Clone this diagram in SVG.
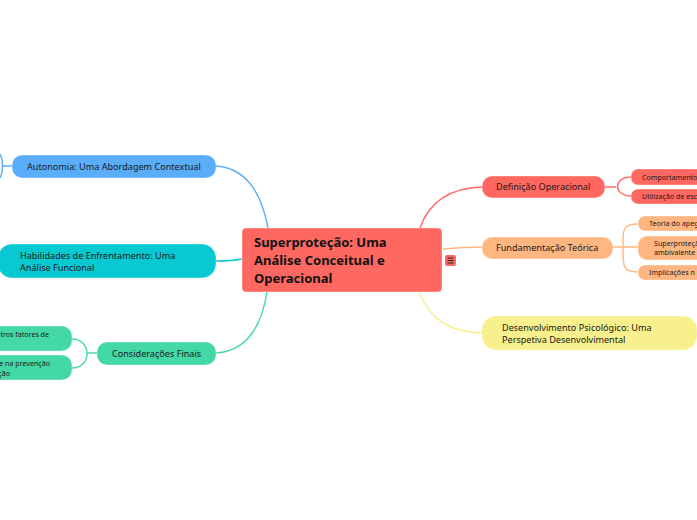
<svg xmlns="http://www.w3.org/2000/svg" width="697" height="520" viewBox="0 0 697 520">
<style>
text{font-family:"Noto Sans","Open Sans",sans-serif;fill:#1a1a1a}
.m{font-size:9.1px}
.s{font-size:7.1px}
.r{font-size:13px;font-weight:700;fill:#111}
.c{fill:none;stroke-width:1.4}
.n{stroke:#fff;stroke-opacity:.35;stroke-width:1}
</style>
<rect width="697" height="520" fill="#fff"/>
<g id="connectors">
<path class="c" stroke="#5aadf8" d="M216 166C245 168 261 190 268 228"/>
<path class="c" stroke="#5aadf8" d="M12 166H2.500M0 154C3.300 160 3.300 172 0 178"/>
<path class="c" stroke="#08c9d2" d="M216 261C225 261 232 261 242 259"/>
<path class="c" stroke="#44d8a6" d="M216 353C245 351 261 330 267 292"/>
<path class="c" stroke="#44d8a6" d="M97 353H87M72 339C92 339 92 368 72 368"/>
<path class="c" stroke="#ff6860" d="M482 187C450 188 429 202 420 228"/>
<path class="c" stroke="#ff6860" d="M605 187H616M631 177C613 177 613 196 631 196"/>
<path class="c" stroke="#ffb680" d="M482 247C465 247 455 248 443 249"/>
<path class="c" stroke="#ffb680" d="M613 247H638M638 224C622 224 623 230 623 247C623 265 622 272 638 272"/>
<path class="c" stroke="#f8f08c" d="M482 333C450 332 430 320 419 292"/>
</g>
<g id="root"><rect class="n" x="242" y="228" width="200" height="64" rx="4" fill="#ff6860"/>
<text class="r" x="254" y="247">Superproteção: Uma</text>
<text class="r" x="254" y="265">Análise Conceitual e</text>
<text class="r" x="254" y="283">Operacional</text></g>
<g id="menu"><rect x="445" y="255" width="11" height="11" rx="2" fill="#ff6860"/><path d="M447.500 258H453.500M447.500 260.500H453.500M447.500 263H453.500" stroke="#222" stroke-width="1"/></g>
<g id="n-autonomia"><rect class="n" x="12" y="155" width="204" height="23" rx="10" fill="#5aadf8"/><text class="m" x="27" y="170">Autonomia: Uma Abordagem Contextual</text></g>
<g id="n-habilidades"><rect class="n" x="-2" y="244" width="218" height="34" rx="14" fill="#08c9d2"/><text class="m" x="20" y="259">Habilidades de Enfrentamento: Uma</text><text class="m" x="20" y="271">Análise Funcional</text></g>
<g id="n-consideracoes"><rect class="n" x="97" y="342" width="119" height="23" rx="10" fill="#44d8a6"/><text class="m" x="112" y="357">Considerações Finais</text></g>
<g id="n-c1"><rect class="n" x="-30" y="326" width="102" height="25" rx="10" fill="#44d8a6"/><text class="s" x="49" y="337" text-anchor="end">tros fatores de</text></g>
<g id="n-c2"><rect class="n" x="-30" y="355" width="102" height="25" rx="10" fill="#44d8a6"/><text class="s" x="50" y="366" text-anchor="end">e na prevenção</text><text class="s" x="10" y="376" text-anchor="end">ção</text></g>
<g id="n-definicao"><rect class="n" x="482" y="176" width="123" height="22" rx="10" fill="#ff6860"/><text class="m" x="496" y="190">Definição Operacional</text></g>
<g id="n-d1"><rect class="n" x="631" y="169" width="90" height="16" rx="7" fill="#ff6860"/><text class="s" x="642" y="180">Comportamentos</text></g>
<g id="n-d2"><rect class="n" x="631" y="189" width="90" height="15" rx="7" fill="#ff6860"/><text class="s" x="642" y="199">Utilização de esc</text></g>
<g id="n-fundamentacao"><rect class="n" x="482" y="237" width="131" height="22" rx="10" fill="#ffb680"/><text class="m" x="496" y="251">Fundamentação Teórica</text></g>
<g id="n-f1"><rect class="n" x="638" y="216" width="90" height="15" rx="7" fill="#ffb680"/><text class="s" x="649" y="226">Teoria do apeg</text></g>
<g id="n-f2"><rect class="n" x="638" y="236" width="90" height="24" rx="9" fill="#ffb680"/><text class="s" x="654" y="246">Superproteção</text><text class="s" x="654" y="255">ambivalente</text></g>
<g id="n-f3"><rect class="n" x="638" y="265" width="90" height="15" rx="7" fill="#ffb680"/><text class="s" x="649" y="275">Implicações n</text></g>
<g id="n-desenvolvimento"><rect class="n" x="482" y="316" width="215" height="34" rx="14" fill="#f8f08c"/><text class="m" x="502" y="331">Desenvolvimento Psicológico: Uma</text><text class="m" x="502" y="343">Perspetiva Desenvolvimental</text></g>
</svg>
